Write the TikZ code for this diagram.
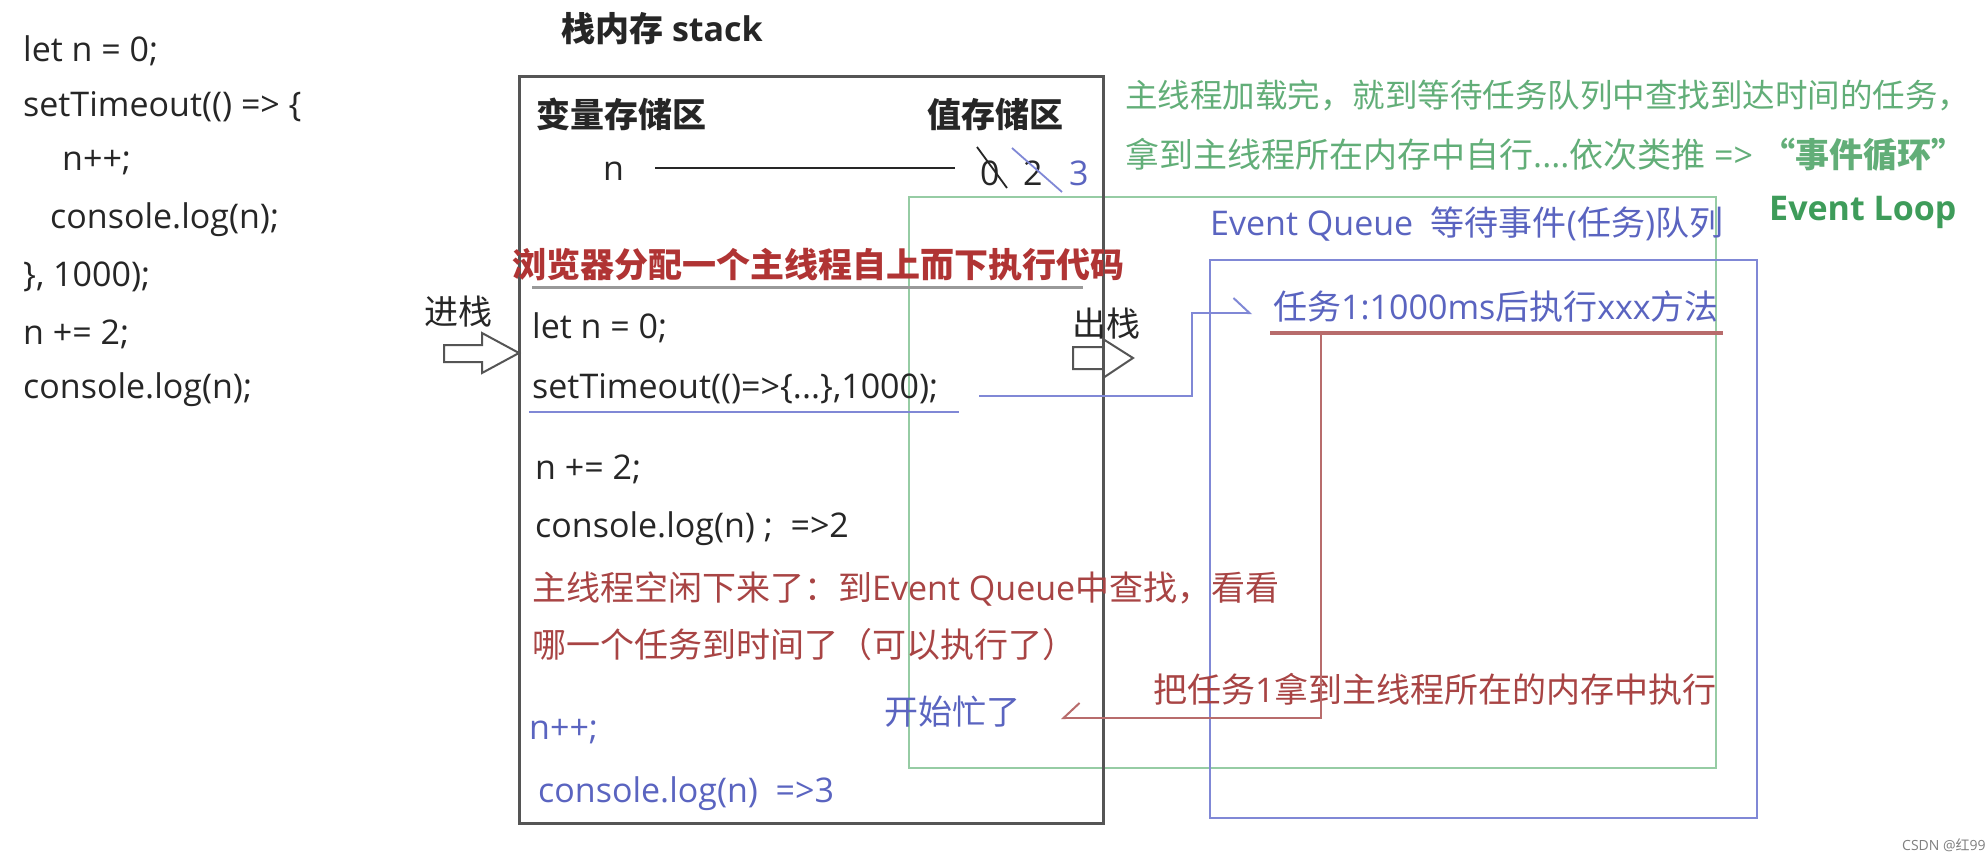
\documentclass[tikz,border=0pt]{standalone}
\usepackage{fontspec}
\setmainfont{Open Sans}
\newfontfamily\cj{Noto Sans CJK SC}
\usetikzlibrary{arrows.meta}
\definecolor{codeblack}{HTML}{262626}
\definecolor{stackgray}{HTML}{555555}
\definecolor{redtitle}{HTML}{B03434}
\definecolor{redtext}{HTML}{A84444}
\definecolor{redline}{HTML}{B86C6C}
\definecolor{bluetext}{HTML}{5A64C0}
\definecolor{blueline}{HTML}{8088D6}
\definecolor{greentext}{HTML}{62AE78}
\definecolor{greendark}{HTML}{3E9C5A}
\definecolor{greenline}{HTML}{96CCA4}
\newcommand\fs{\fontsize{34}{40}\selectfont}
\tikzset{
  txt/.style={anchor=west, inner sep=0pt, font=\fs, text=codeblack},
  redt/.style={txt, text=redtext},
  bluet/.style={txt, text=bluetext},
  greent/.style={txt, text=greentext},
  boxline/.style={line width=2.5pt},
  halfarrow/.style={-{Straight Barb[harpoon,length=16pt,width=30pt,line width=2pt]}},
  halfarrowswap/.style={-{Straight Barb[harpoon,swap,length=16pt,width=30pt,line width=2pt]}},
}
\begin{document}
\begin{tikzpicture}[x=1pt,y=-1pt]
\useasboundingbox (0,0) rectangle (1986,860);
\fill[white] (0,0) rectangle (1986,860);

% left code
\node[txt] (c1) at (23,51) {let n = 0;};
\node[txt] (c2) at (23,107) {setTimeout(() => \{};
\node[txt] (c3) at (62,163) {n++;};
\node[txt] (c4) at (50,220) {console.log(n);};
\node[txt] (c5) at (23,277) {\}, 1000);};
\node[txt] (c6) at (23,334) {n += 2;};
\node[txt] (c7) at (23,390) {console.log(n);};

% boxes
\draw[greenline, boxline] (909,197) rectangle (1716,768);
\draw[blueline, boxline] (1210,260) rectangle (1757,818);
\draw[stackgray, line width=3pt] (519,76) rectangle (1103,823);

% stack header
\node[txt, font=\fs\bfseries] (stk) at (561,29) {{\cj 栈内存} stack};
\node[txt, font=\fs\bfseries\cj] (varz) at (536,114) {变量存储区};
\node[txt, font=\fs\bfseries\cj] (valz) at (927,114) {值存储区};
\node[txt] (nvar) at (603,171) {n};
\node[txt] (v0) at (980,173) {0};
\node[txt] (v2) at (1023,173) {2};
\node[txt, text=bluetext] (v3) at (1069,173) {3};
\draw[codeblack, line width=2pt] (655,168) -- (955,168);
\draw[codeblack, line width=1.8pt] (977,147) -- (1007,188);
\draw[blueline, line width=1.8pt] (1012,148) -- (1062,192);

% main thread
\node[txt, text=redtitle, font=\fs\bfseries\cj] (mt) at (512,265) {浏览器分配一个主线程自上而下执行代码};
\draw[gray!80, line width=3pt] (532,287) -- (1083,287);
\node[txt] (s1) at (532,328) {let n = 0;};
\node[txt] (s2) at (532,389) {setTimeout(()=>\{...\},1000);};
\draw[blueline, line width=2.5pt] (529,412) -- (959,412);
\node[txt] (s3) at (535,469) {n += 2;};
\node[txt] (s4) at (535,529) {console.log(n) ;\ \ =>2};
\node[redt] (r1) at (532,589) {{\cj 主线程空闲下来了：到}Event Queue{\cj 中查找，看看}};
\node[redt] (r2) at (532,645) {\cj 哪一个任务到时间了（可以执行了）};
\node[bluet] (busy) at (884,712) {\cj 开始忙了};
\node[bluet] (s5) at (529,732) {n++;};
\node[bluet] (s6) at (538,794) {console.log(n)\ \ =>3};

% push / pop arrows
\node[txt, font=\fs\cj] (jin) at (424,312) {进栈};
\draw[stackgray, line width=2pt, line join=miter]
  (444,345) -- (482,345) -- (482,333) -- (519,353) -- (482,373) -- (482,362) -- (444,362) -- cycle;
\node[txt, font=\fs\cj] (chu) at (1072,324) {出栈};
\draw[stackgray, line width=2pt, line join=miter]
  (1073,347) -- (1103,347) -- (1103,339) -- (1133,358) -- (1103,378) -- (1103,369) -- (1073,369) -- cycle;

% right texts
\node[greent, font=\fontsize{32.5}{38}\selectfont\cj] (g1) at (1125,95) {主线程加载完，就到等待任务队列中查找到达时间的任务，};
\node[greent] (g2) at (1125,155) {{\cj 拿到主线程所在内存中自行}....{\cj 依次类推} => {\bfseries\cj “事件循环”}};
\node[txt, text=greendark, font=\fs\bfseries] (el) at (1769,212) {Event Loop};
\node[bluet] (eq) at (1210,224) {Event Queue\ \ {\cj 等待事件}({\cj 任务}){\cj 队列}};
\node[bluet] (task) at (1273,307) {{\cj 任务}1:1000ms{\cj 后执行}xxx{\cj 方法}};
\draw[redline, line width=4pt] (1270,333) -- (1723,333);
\node[redt] (r3) at (1153,689) {{\cj 把任务}1{\cj 拿到主线程所在的内存中执行}};

% connectors
\coordinate (bstart) at (979,396);
\coordinate (btip) at (1252,313);
\draw[blueline, line width=2.5pt, halfarrow] (bstart) -- (1192,396) -- (1192,313) -- (btip);
\coordinate (rstart) at (1321,333);
\coordinate (rtip) at (1061,718);
\draw[redline, line width=2.5pt, halfarrowswap] (rstart) -- (1321,718) -- (rtip);

\node[anchor=west, inner sep=0pt, font=\fontsize{14}{16}\selectfont, text=gray] (wm) at (1902,845) {CSDN @{\cj 红}99};
\end{tikzpicture}
\end{document}
